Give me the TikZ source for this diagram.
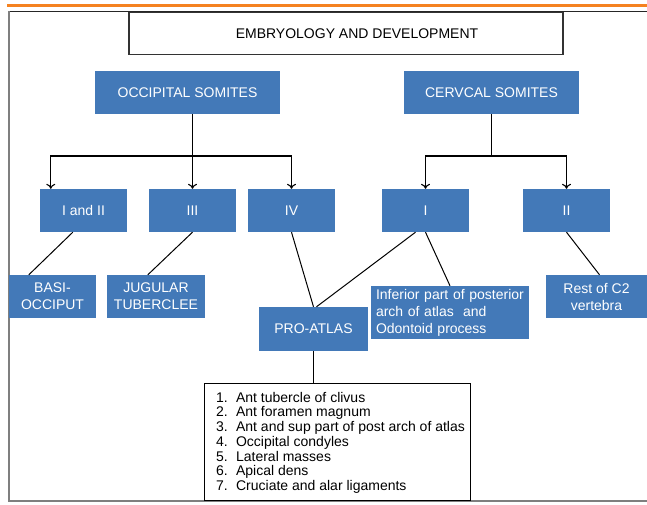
\documentclass[tikz,border=0pt]{standalone}
\usepackage{fontspec}
\setmainfont{Liberation Sans}
\usetikzlibrary{positioning,calc,arrows.meta}
\definecolor{boxblue}{HTML}{4379B8}
\definecolor{orangeline}{HTML}{F58220}
\definecolor{framegray}{HTML}{7F7F7F}
\newcommand{\listline}[2]{\hspace*{7pt}\makebox[20pt][l]{#1.}#2}

\begin{document}
\begin{tikzpicture}[x=1pt,y=-1pt]
    % Stili
    \tikzset{
        headbox/.style={rectangle, draw=black!80, line width=1.2pt, fill=white, minimum width=434pt, minimum height=42pt, text centered, font=\fontsize{14}{17}\selectfont},
        somite/.style={rectangle, fill=boxblue, text=white, minimum height=43pt, text centered, inner sep=2pt, font=\fontsize{14}{17}\selectfont},
        listbox/.style={rectangle, draw=black, line width=1pt, fill=white, minimum width=266pt, inner xsep=2pt, inner ysep=0pt, minimum height=117pt, align=left, font=\fontsize{14}{14.7}\selectfont},
        arrow/.style={-{To[length=5pt,width=9pt]}, line width=1.1pt},
        link/.style={line width=1pt}
    }
    \useasboundingbox (0,0) rectangle (647,504);

    % Cornice
    \draw[orangeline, line width=3pt] (7,5) -- (647,5);
    \draw[black!85, line width=1pt] (8,11.5) -- (647,11.5);
    \draw[framegray, line width=2pt] (8.5,11) -- (8.5,500.5) -- (647,500.5);

    % Titolo
    \node[headbox] (title) at (346,33.5) {\hspace*{22pt}EMBRYOLOGY AND DEVELOPMENT};

    % Somiti
    \node[somite, minimum width=185pt] (occ) at (187.5,92.5) {OCCIPITAL SOMITES};
    \node[somite, minimum width=175pt] (cerv) at (491.5,92.5) {CERVCAL SOMITES};

    % Secondo livello
    \node[somite, minimum width=87pt] (occ12) at (83.5,210.5) {I and II};
    \node[somite, minimum width=87pt] (occ3) at (192.5,210.5) {III};
    \node[somite, minimum width=87pt] (occ4) at (291.5,210.5) {IV};
    \node[somite, minimum width=87pt] (cerv1) at (425.5,210.5) {I};
    \node[somite, minimum width=87pt] (cerv2) at (566.5,210.5) {II};

    % Derivati
    \node[somite, minimum width=87pt, align=center] (basi) at (52.5,296.5) {BASI-\\OCCIPUT};
    \node[somite, minimum width=98pt, align=center] (jug) at (156,296.5) {JUGULAR\\TUBERCLEE};
    \node[somite, minimum width=109pt, minimum height=44pt] (proatlas) at (313.5,329) {PRO-ATLAS};
    \node[somite, text width=148pt, minimum height=53pt, align=left, inner xsep=5pt] (inferior) at (450,312.5) {Inferior part of posterior\\arch of atlas~ and\\Odontoid process};
    \node[somite, minimum width=101pt, align=center] (rest) at (596.5,296.5) {Rest of C2\\vertebra};

    % Lista
    \node[listbox] (list) at (337,441.5) {
        \rule{0pt}{12.5pt}\listline{1}{Ant tubercle of clivus}\\
        \listline{2}{Ant foramen magnum}\\
        \listline{3}{Ant and sup part of post arch of atlas}\\
        \listline{4}{Occipital condyles}\\
        \listline{5}{Lateral masses}\\
        \listline{6}{Apical dens}\\
        \listline{7}{Cruciate and alar ligaments}
    };

    % Connettori
    \coordinate (occbar) at (occ3.north |- 0,156);
    \coordinate (cervbar) at (cerv.south |- 0,156);
    \draw[link] (occ.south -| occ3.north) -- (occbar);
    \draw[arrow] (occbar) -- (occ3.north);
    \draw[arrow] (occbar) -| ([xshift=11pt]occ12.north west);
    \draw[arrow] (occbar) -| (occ4.north);
    \draw[link] (cerv.south) -- (cervbar);
    \draw[arrow] (cervbar) -| (cerv1.north);
    \draw[arrow] (cervbar) -| (cerv2.north);

    \draw[link] ([xshift=33pt]occ12.south west) -- ([xshift=20pt]basi.north west);
    \draw[link] (occ3.south) -- ([xshift=41pt]jug.north west);
    \draw[link] (occ4.south) -- (proatlas.north);
    \draw[link] ([xshift=-10pt]cerv1.south) -- ([xshift=3pt]proatlas.north);
    \draw[link] (cerv1.south) -- (inferior.north);
    \draw[link] (cerv2.south) -- ([xshift=3pt]rest.north);
    \draw[link] (proatlas.south) -- (proatlas.south |- list.north);

\end{tikzpicture}
\end{document}
